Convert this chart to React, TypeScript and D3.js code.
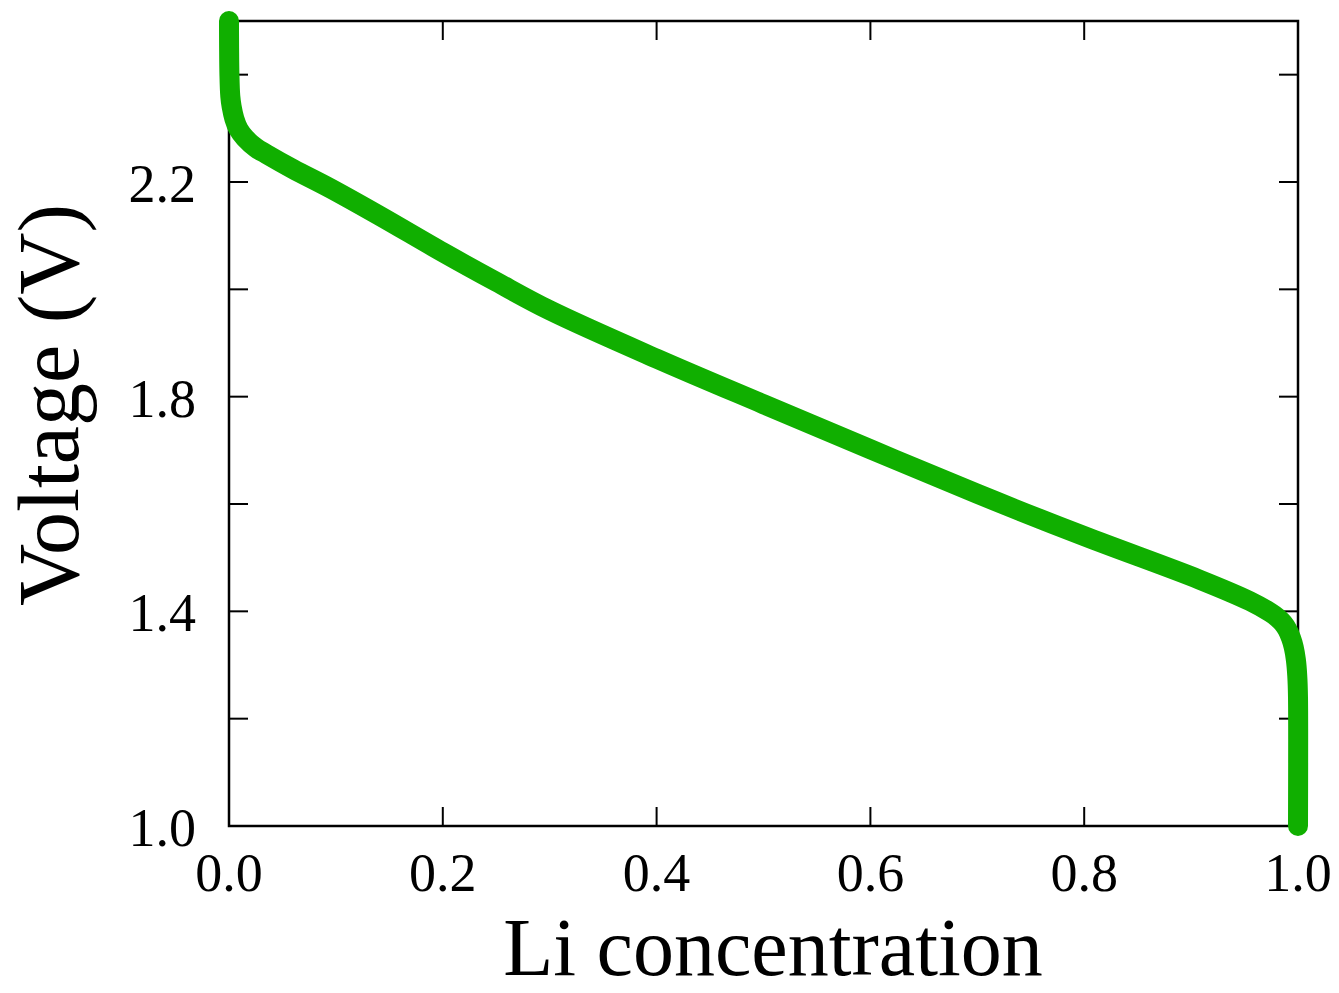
import { useRef, useEffect } from "react";
import * as d3 from "d3";

// Li concentration vs voltage
const conc = [
  0, 0.0004, 0.0012, 0.0025, 0.005, 0.009, 0.015, 0.025, 0.035, 0.06, 0.094, 0.14,
  0.2, 0.25, 0.3, 0.4, 0.5, 0.6, 0.7, 0.8, 0.908, 0.955, 0.974, 0.981, 0.986,
  0.99, 0.9935, 0.996, 0.998, 0.9993, 1.0, 1.0,
];
const voltage = [
  2.5, 2.4, 2.36, 2.34, 2.318, 2.298, 2.282, 2.264, 2.252, 2.224, 2.189, 2.138,
  2.069, 2.014, 1.961, 1.871, 1.786, 1.702, 1.619, 1.54, 1.459, 1.419, 1.398, 1.388,
  1.378, 1.366, 1.35, 1.333, 1.31, 1.28, 1.24, 1.0,
];

const xTicks = [0, 0.2, 0.4, 0.6, 0.8, 1.0];
const yTicks = [1.0, 1.2, 1.4, 1.6, 1.8, 2.0, 2.2, 2.4];
const yLabels = [1.0, 1.4, 1.8, 2.2];

const W = 1339;
const H = 993;
const FONT = "'Liberation Serif', 'Times New Roman', serif";

export default function App() {
  const svgRef = useRef<SVGSVGElement>(null);

  useEffect(() => {
    const svg = d3.select(svgRef.current);
    svg.selectAll("*").remove();

    const left = 229, right = 1298, top = 21, bottom = 826;
    const x = d3.scaleLinear().domain([0, 1]).range([left, right]);
    const y = d3.scaleLinear().domain([1.0, 2.5]).range([bottom, top]);
    const tickLen = 19;

    svg.append("rect").attr("width", W).attr("height", H).attr("fill", "#fff");

    // ticks, inward on all four sides
    const tg = svg.append("g").attr("stroke", "#000").attr("stroke-width", 2);
    xTicks.filter((t) => t > 0 && t < 1).forEach((t) => {
      tg.append("line").attr("x1", x(t)).attr("x2", x(t)).attr("y1", bottom).attr("y2", bottom - tickLen);
      tg.append("line").attr("x1", x(t)).attr("x2", x(t)).attr("y1", top).attr("y2", top + tickLen);
    });
    yTicks.filter((t) => t > 1.0).forEach((t) => {
      tg.append("line").attr("x1", left).attr("x2", left + tickLen).attr("y1", y(t)).attr("y2", y(t));
      tg.append("line").attr("x1", right).attr("x2", right - tickLen).attr("y1", y(t)).attr("y2", y(t));
    });

    svg
      .append("rect")
      .attr("x", left)
      .attr("y", top)
      .attr("width", right - left)
      .attr("height", bottom - top)
      .attr("fill", "none")
      .attr("stroke", "#000")
      .attr("stroke-width", 2.5);

    // tick labels
    svg
      .append("g")
      .selectAll("text")
      .data(xTicks)
      .enter()
      .append("text")
      .attr("x", (d) => x(d))
      .attr("y", 891)
      .attr("text-anchor", "middle")
      .attr("font-family", FONT)
      .attr("font-size", 54)
      .attr("fill", "#000")
      .text((d) => d.toFixed(1));

    svg
      .append("g")
      .selectAll("text")
      .data(yLabels)
      .enter()
      .append("text")
      .attr("x", 196)
      .attr("y", (d) => y(d) + 20)
      .attr("text-anchor", "end")
      .attr("font-family", FONT)
      .attr("font-size", 54)
      .attr("fill", "#000")
      .text((d) => d.toFixed(1));

    // axis titles
    svg
      .append("text")
      .attr("x", 773)
      .attr("y", 975)
      .attr("text-anchor", "middle")
      .attr("font-family", FONT)
      .attr("font-size", 82)
      .attr("fill", "#000")
      .text("Li concentration");

    svg
      .append("text")
      .attr("transform", "translate(78,405) rotate(-90)")
      .attr("text-anchor", "middle")
      .attr("font-family", FONT)
      .attr("font-size", 86)
      .attr("fill", "#000")
      .text("Voltage (V)");

    // curve
    const pts = conc.map((c, i) => [c, voltage[i]] as [number, number]);
    const line = d3
      .line<[number, number]>()
      .x((d) => x(d[0]))
      .y((d) => y(d[1]))
      .curve(d3.curveCatmullRom.alpha(0.5));

    svg
      .append("path")
      .attr("d", line(pts))
      .attr("fill", "none")
      .attr("stroke", "#10af00")
      .attr("stroke-width", 20)
      .attr("stroke-linecap", "round")
      .attr("stroke-linejoin", "round");
  }, []);

  return (
    <svg
      ref={svgRef}
      width={W}
      height={H}
      style={{ position: "absolute", left: 0, top: 0, display: "block" }}
    />
  );
}
